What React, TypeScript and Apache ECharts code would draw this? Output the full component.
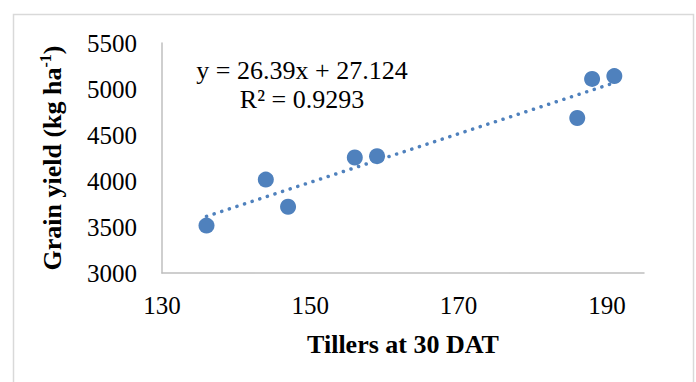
import React, { useEffect, useRef } from "react";
import * as echarts from "echarts";

const tillers = [136, 144, 147, 156, 159, 186, 188, 191];
const grainYield = [3515, 4015, 3720, 4255, 4270, 4685, 5110, 5140];
const trendX = [136, 191];
const trendY = [3616, 5068];
const xTicks = [130, 150, 170, 190];
const yTicks = [3000, 3500, 4000, 4500, 5000, 5500];
const equationLines = ["y = 26.39x + 27.124", "R² = 0.9293"];

const BLUE = "#4F81BD";
const FONT = "'Liberation Serif', 'Times New Roman', serif";

export default function App() {
  const ref = useRef<HTMLDivElement>(null);
  useEffect(() => {
    if (!ref.current) return;
    const chart = echarts.init(ref.current, undefined, { renderer: "svg" });
    chart.setOption({
      animation: false,
      backgroundColor: "#ffffff",
      textStyle: { fontFamily: FONT },
      grid: { left: 162, top: 43, width: 482, height: 230, containLabel: false },
      xAxis: {
        type: "value",
        min: xTicks[0],
        max: 195,
        interval: 20,
        splitLine: { show: false },
        axisTick: { show: false },
        axisLine: { show: true, lineStyle: { color: "#BFBFBF", width: 1.5 } },
        axisLabel: {
          color: "#000",
          fontSize: 25,
          fontFamily: FONT,
          margin: 20,
          showMaxLabel: false,
          formatter: (v: number) => String(v),
        },
        name: "Tillers at 30 DAT",
        nameLocation: "middle",
        nameGap: 58,
        nameTextStyle: { color: "#000", fontSize: 26, fontWeight: "bold", fontFamily: FONT },
      },
      yAxis: {
        type: "value",
        min: yTicks[0],
        max: yTicks[yTicks.length - 1],
        interval: 500,
        splitLine: { show: false },
        axisTick: { show: false },
        axisLine: { show: true, lineStyle: { color: "#BFBFBF", width: 1.5 } },
        axisLabel: {
          color: "#000",
          fontSize: 25,
          fontFamily: FONT,
          margin: 25,
          formatter: (v: number) => String(v),
        },
        name: "{m|Grain yield (kg ha}{s|-1}{m|)}",
        nameLocation: "middle",
        nameRotate: 90,
        nameGap: 95,
        nameTextStyle: {
          color: "#000",
          fontWeight: "bold",
          fontFamily: FONT,
          rich: {
            m: { fontSize: 26, fontWeight: "bold", fontFamily: FONT, color: "#000", lineHeight: 30 },
            s: {
              fontSize: 16,
              fontWeight: "bold",
              fontFamily: FONT,
              color: "#000",
              lineHeight: 30,
              verticalAlign: "top",
              padding: [0, 0, 10, 0],
            },
          },
        },
      },
      graphic: [
        {
          type: "rect",
          shape: { x: 13.5, y: 14.5, width: 680, height: 380 },
          style: { fill: "none", stroke: "#D9D9D9", lineWidth: 1.5 },
          silent: true,
          z: -10,
        },
        {
          type: "text",
          x: 302,
          y: 70,
          style: {
            text: equationLines[0],
            fontSize: 26,
            fontFamily: FONT,
            fill: "#000",
            align: "center",
            verticalAlign: "middle",
          },
        },
        {
          type: "text",
          x: 302,
          y: 99,
          style: {
            text: equationLines[1],
            fontSize: 26,
            fontFamily: FONT,
            fill: "#000",
            align: "center",
            verticalAlign: "middle",
          },
        },
      ],
      series: [
        {
          type: "line",
          data: trendX.map((x, i) => [x, trendY[i]]),
          showSymbol: false,
          symbol: "none",
          lineStyle: { color: BLUE, width: 3.5, type: [0.1, 7.9], cap: "round" },
          z: 1,
        },
        {
          type: "scatter",
          data: tillers.map((x, i) => [x, grainYield[i]]),
          symbol: "circle",
          symbolSize: 16,
          itemStyle: { color: BLUE, opacity: 1 },
          z: 2,
        },
      ],
    });
    return () => chart.dispose();
  }, []);
  return (
    <div
      ref={ref}
      style={{ position: "fixed", left: 0, top: 0, width: 696, height: 382 }}
    />
  );
}
